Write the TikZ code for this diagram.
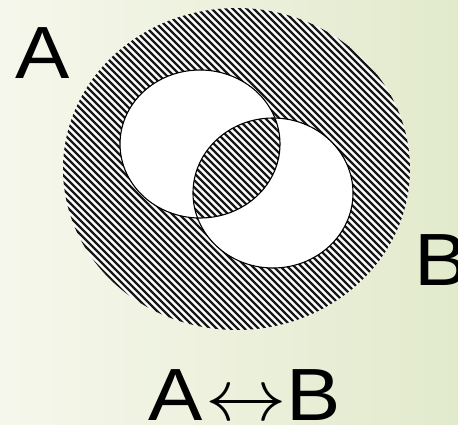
\documentclass[tikz,border=0pt]{standalone}
\usepackage{fontspec}
\usepackage{graphicx}
\setmainfont{Liberation Sans}
\begin{document}
\begin{tikzpicture}[x=1pt,y=-1pt,
  lbl/.style={inner sep=0pt, anchor=base west, font=\fontsize{74}{74}\selectfont},
  circ/.style={draw=black, line width=1.1pt},
  hatchline/.style={line width=2.4pt, black!90}]
\useasboundingbox (0,0) rectangle (458,424);
\shade[left color={rgb,255:red,246;green,247;blue,236}, right color={rgb,255:red,226;green,234;blue,204}] (0,0) rectangle (458,424);
% outer set
\fill[white] (236.5,169) ellipse [x radius=173.5, y radius=161];
\begin{scope}[even odd rule]
  \clip (236.5,169) ellipse [x radius=173.5, y radius=161]
     (200,144) ellipse [x radius=80, y radius=74]
     (273,193) ellipse [x radius=80, y radius=75];
  \foreach \c in {-434,-427,...,470} {
    \draw[hatchline] (\c,0) -- ++(430,430);
  }
\end{scope}
\coordinate (ca) at (200,144);
\coordinate (cb) at (273,193);
\draw[circ] (ca) ellipse [x radius=80, y radius=74];
\draw[circ] (cb) ellipse [x radius=80, y radius=75];
\node[lbl] (la) at (15,78) {\scalebox{1.1}[1]{A}};
\node[lbl] (lb) at (414,285) {\scalebox{1.1}[1]{B}};
\node[lbl] (lab) at (148,420) {\scalebox{1.1}[1]{A\kern2.3pt{\fontsize{10}{10}\selectfont\scalebox{7.4}{$\leftrightarrow$}}B}};
\end{tikzpicture}
\end{document}
